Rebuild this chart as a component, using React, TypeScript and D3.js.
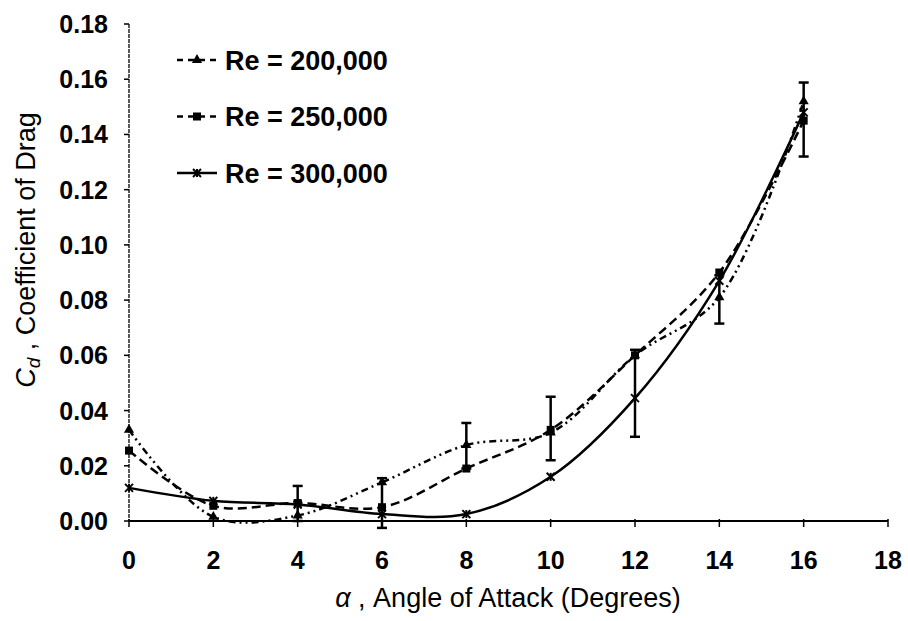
import * as d3 from "d3";

const angles = [0, 2, 4, 6, 8, 10, 12, 14, 16];
const re200 = [0.033, 0.0015, 0.002, 0.014, 0.0275, 0.032, 0.06, 0.081, 0.152];
const re250 = [0.0255, 0.0055, 0.0065, 0.005, 0.019, 0.033, 0.06, 0.09, 0.145];
const re300 = [0.012, 0.0073, 0.006, 0.0025, 0.0025, 0.016, 0.0445, 0.087, 0.148];

const errAngles = [4, 6, 8, 10, 12, 14, 16];
const errLow = [0.0, -0.0025, 0.019, 0.022, 0.0305, 0.0715, 0.132];
const errHigh = [0.0127, 0.0155, 0.0355, 0.045, 0.062, 0.089, 0.1588];

const xTicks = [0, 2, 4, 6, 8, 10, 12, 14, 16, 18];
const yTicks = [0, 0.02, 0.04, 0.06, 0.08, 0.1, 0.12, 0.14, 0.16, 0.18];

const legendLabels = ["Re = 200,000", "Re = 250,000", "Re = 300,000"];

const W = 908;
const H = 621;
const FONT = "'Liberation Sans', Arial, sans-serif";

type Marker = "triangle" | "square" | "cross";

const series = [
  { values: re200, dash: "7,4,2,4,2,4", marker: "triangle" as Marker },
  { values: re250, dash: "9,5", marker: "square" as Marker },
  { values: re300, dash: "none", marker: "cross" as Marker },
];

const MarkerShape = ({ type, x, y }: { type: Marker; x: number; y: number }) => {
  if (type === "triangle") {
    const p = d3.symbol(d3.symbolTriangle, 45)();
    return <path d={p ?? ""} transform={`translate(${x},${y})`} fill="#000" />;
  }
  if (type === "square") {
    return <rect x={x - 4} y={y - 4} width={8} height={8} fill="#000" />;
  }
  return (
    <g stroke="#000" strokeWidth={2}>
      <line x1={x - 4} y1={y - 4} x2={x + 4} y2={y + 4} />
      <line x1={x - 4} y1={y + 4} x2={x + 4} y2={y - 4} />
      <line x1={x} y1={y - 4} x2={x} y2={y + 4} />
    </g>
  );
};

const App = () => {
  const x = d3.scaleLinear().domain([0, 18]).range([129, 888]);
  const y = d3.scaleLinear().domain([0, 0.18]).range([521, 24]);

  const line = d3
    .line<[number, number]>()
    .x((d) => x(d[0]))
    .y((d) => y(d[1]))
    .curve(d3.curveCatmullRom.alpha(0.5));

  return (
    <svg
      width={W}
      height={H}
      viewBox={`0 0 ${W} ${H}`}
      style={{ position: "absolute", left: 0, top: 0, background: "#fff" }}
      fontFamily={FONT}
    >
      <rect width={W} height={H} fill="#fff" />

      {/* axes */}
      <line x1={x(0)} x2={x(0)} y1={y(0.18)} y2={y(0)} stroke="#000" strokeWidth={1.3} strokeDasharray="4,1" />
      <line x1={x(0)} x2={x(18)} y1={y(0)} y2={y(0)} stroke="#000" strokeWidth={2} />
      {yTicks.map((t) => (
        <g key={t}>
          <line x1={x(0) - 5} x2={x(0)} y1={y(t)} y2={y(t)} stroke="#000" strokeWidth={1.5} />
          <text
            x={108}
            y={y(t)}
            dy="0.36em"
            textAnchor="end"
            fontSize={25}
            fontWeight="bold"
          >
            {t.toFixed(2)}
          </text>
        </g>
      ))}
      {xTicks.map((t) => (
        <g key={t}>
          <line x1={x(t)} x2={x(t)} y1={y(0) - 2} y2={y(0) + 6} stroke="#000" strokeWidth={1.5} />
          <text x={x(t)} y={569} textAnchor="middle" fontSize={25} fontWeight="bold">
            {t}
          </text>
        </g>
      ))}

      {/* axis titles */}
      <text x={508} y={607} textAnchor="middle" fontSize={27}>
        <tspan fontStyle="italic">α</tspan> , Angle of Attack (Degrees)
      </text>
      <text transform="translate(35,250) rotate(-90)" textAnchor="middle" fontSize={27}>
        <tspan fontStyle="italic">C</tspan>
        <tspan fontStyle="italic" fontSize={19} dy={5}>d</tspan>
        <tspan dy={-5}> , Coefficient of Drag</tspan>
      </text>

      {/* error bars */}
      {errAngles.map((a, i) => (
        <g key={a} stroke="#000" strokeWidth={2.5}>
          <line x1={x(a)} x2={x(a)} y1={y(errLow[i])} y2={y(errHigh[i])} />
          <line x1={x(a) - 5} x2={x(a) + 5} y1={y(errLow[i])} y2={y(errLow[i])} />
          <line x1={x(a) - 5} x2={x(a) + 5} y1={y(errHigh[i])} y2={y(errHigh[i])} />
        </g>
      ))}

      {/* series */}
      {series.map((s, si) => (
        <g key={si}>
          <path
            d={line(angles.map((a, i) => [a, s.values[i]] as [number, number])) ?? ""}
            fill="none"
            stroke="#000"
            strokeWidth={2.5}
            strokeDasharray={s.dash}
          />
          {angles.map((a, i) => (
            <MarkerShape key={a} type={s.marker} x={x(a)} y={y(s.values[i])} />
          ))}
        </g>
      ))}

      {/* legend */}
      {series.map((s, i) => {
        const cy = 60 + i * 56.5;
        return (
          <g key={i}>
            <line x1={177} x2={217} y1={cy} y2={cy} stroke="#000" strokeWidth={2.5} strokeDasharray={s.marker === "cross" ? "none" : "6,5"} />
            <MarkerShape type={s.marker} x={197} y={cy} />
            <text x={225} y={cy} dy="0.36em" fontSize={27} fontWeight="bold">
              {legendLabels[i]}
            </text>
          </g>
        );
      })}
    </svg>
  );
};

export default App;
